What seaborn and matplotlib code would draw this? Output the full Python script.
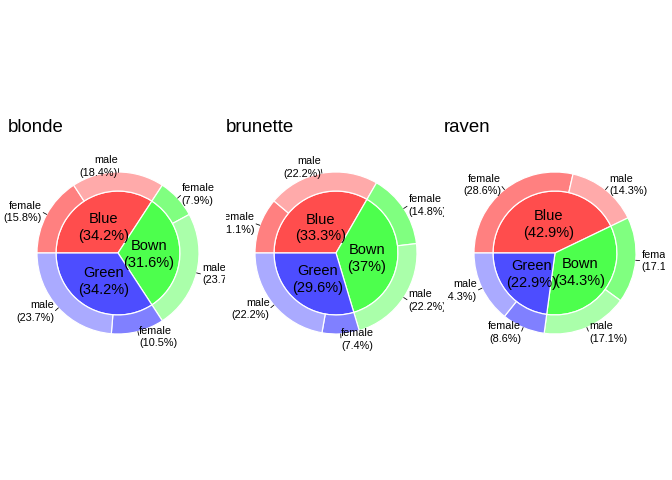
"""
Nested pie (pie + donut) of eye colour by sex, one panel per hair colour.
"""

import numpy as np
import matplotlib
matplotlib.use("Agg")
import matplotlib.pyplot as plt
import seaborn as sns

# data: counts per eye colour, split female / male
hair = ["blonde", "brunette", "raven"]
eyes = ["Blue", "Bown", "Green"]
sexes = ["female", "male"]
blonde_counts = [[6, 7], [3, 9], [4, 9]]
brunette_counts = [[3, 6], [4, 6], [2, 6]]
raven_counts = [[10, 5], [6, 6], [3, 5]]

inner_colors = ["#FF4D4D", "#4DFF4D", "#4D4DFF"]
outer_colors = [["#FF8080", "#FFAAAA"], ["#80FF80", "#AAFFAA"], ["#8080FF", "#AAAAFF"]]

sns.set_style("white")
plt.rcParams["font.family"] = ["Liberation Sans", "DejaVu Sans"]
plt.rcParams["text.color"] = "black"

W, H = 672, 480
fig = plt.figure(figsize=(7, 5), dpi=96)

centers = [118, 336, 555]          # pixel x of pie centres
clips = [(0, 225), (226, 444), (447, 665)]
title_x = [8, 226, 444]
cy = 253                            # pixel y (from top) of pie centres
R = 81                              # outer radius in pixels
top, bottom = 140, 372
r_in = 0.765


def pct(v):
    return "{:g}".format(round(v, 1))


def donut(ax, counts):
    counts = np.array(counts, dtype=float)
    total = counts.sum()
    inner = counts.sum(axis=1)
    outer = counts.ravel()
    ocols = [c for pair in outer_colors for c in pair]

    ax.pie(inner, radius=r_in, startangle=180, counterclock=False,
           colors=inner_colors,
           wedgeprops=dict(edgecolor="white", linewidth=0.9))
    ax.pie(outer, radius=1.0, startangle=180, counterclock=False,
           colors=ocols,
           wedgeprops=dict(width=1.0 - r_in, edgecolor="white", linewidth=0.9))

    # inner labels
    start = 0.0
    for name, v in zip(eyes, inner):
        sweep = v / total * 360
        theta = start + sweep / 2          # clockwise from 9 o'clock
        a = np.deg2rad(180 - theta)
        ax.text(0.38 * np.cos(a), 0.38 * np.sin(a) - 0.02,
                f"{name}\n({pct(v / total * 100)}%)",
                ha="center", va="center", fontsize=11, linespacing=1.25,
                color="black")
        start += sweep

    # outer labels
    start = 0.0
    for i in range(len(eyes)):
        for j, s in enumerate(sexes):
            v = counts[i, j]
            sweep = v / total * 360
            theta = start + sweep / 2
            a = np.deg2rad(180 - theta)
            c, sn = np.cos(a), np.sin(a)
            ax.plot([1.0 * c, 1.05 * c], [1.0 * sn, 1.05 * sn],
                    color="black", linewidth=0.6)
            right_side = 90 + 1e-6 < theta < 270
            ax.text(1.07 * c, 1.07 * sn, f"{s}\n({pct(v / total * 100)}%)",
                    ha="left" if right_side else "right", va="center",
                    fontsize=8.2, linespacing=1.3, clip_on=True, color="black")
            start += sweep


for k, (name, counts) in enumerate(zip(hair, [blonde_counts, brunette_counts, raven_counts])):
    x0, x1 = clips[k]
    ax = fig.add_axes([x0 / W, (H - bottom) / H, (x1 - x0) / W, (bottom - top) / H])
    donut(ax, counts)
    ax.set_aspect("auto")
    ax.set_xlim((x0 - centers[k]) / R, (x1 - centers[k]) / R)
    ax.set_ylim(-(bottom - cy) / R, (cy - top) / R)
    ax.axis("off")
    fig.text(title_x[k] / W, (H - 132) / H, name, fontsize=14,
             ha="left", va="baseline", color="black")

fig.savefig("out.png", dpi=96)
